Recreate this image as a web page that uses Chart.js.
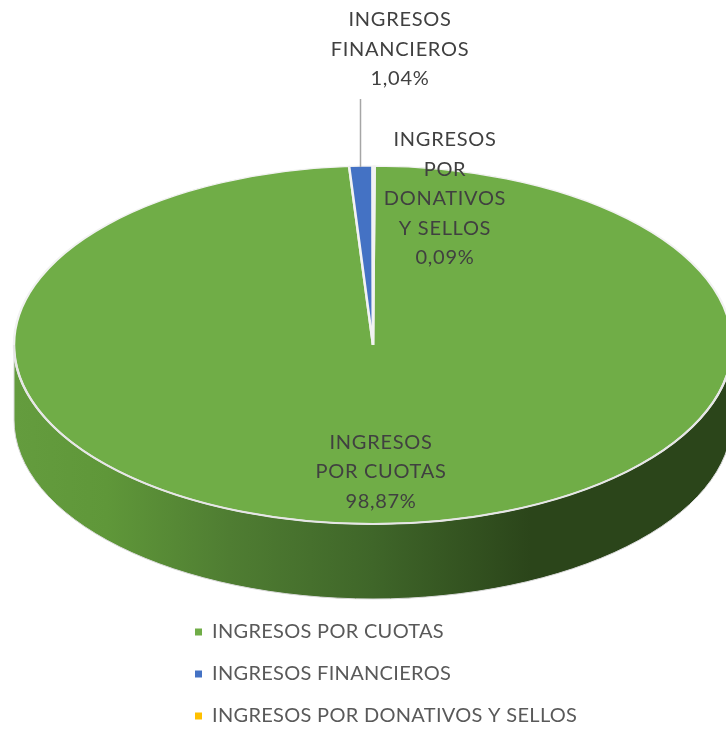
<!DOCTYPE html>
<html><head><meta charset="utf-8">
<style>html,body{margin:0;padding:0;background:#fff}#w{width:726px;height:731px}</style>
<script src="https://cdn.jsdelivr.net/npm/chart.js@4/dist/chart.umd.min.js"></script>
</head><body><div id="w"><canvas id="c"></canvas></div>
<script>
const categories = ['INGRESOS POR CUOTAS','INGRESOS FINANCIEROS','INGRESOS POR DONATIVOS Y SELLOS'];
const values = [98.87, 1.04, 0.09];
const colors = ['#70AD47','#4472C4','#FFC000'];
const sliceLabels = [
  ['INGRESOS','POR CUOTAS','98,87%'],
  ['INGRESOS','FINANCIEROS','1,04%'],
  ['INGRESOS','POR','DONATIVOS','Y SELLOS','0,09%']
];
const FONT = 'Lato, Carlito, sans-serif';
const CY = 345, KY = 179/359, DEPTH = 75;

function geom(chart){ const a = chart.getDatasetMeta(0).data[0]; return {cx:a.x, cy:a.y, r:a.outerRadius}; }

const pie3d = {
  id:'pie3d',
  afterLayout(chart){
    const l = chart.legend;
    l.left = 173; l.right = 640; l.top = 600; l.bottom = 900;
  },
  beforeDraw(chart){ chart.ctx.letterSpacing = '0.3px'; },
  beforeDatasetsDraw(chart){
    const {cx,cy,r} = geom(chart), ry = r*KY, ctx = chart.ctx;
    ctx.save();
    const g = ctx.createLinearGradient(cx-r,0,cx+r,0);
    g.addColorStop(0,'#649C3E');
    g.addColorStop(0.13,'#5F9739');
    g.addColorStop(0.30,'#4F7D32');
    g.addColorStop(0.50,'#3F6629');
    g.addColorStop(0.72,'#2B451A');
    g.addColorStop(1,'#2B451A');
    ctx.beginPath();
    ctx.ellipse(cx,CY,r,ry,0,Math.PI,0,true);
    ctx.lineTo(cx+r,CY+DEPTH);
    ctx.ellipse(cx,CY+DEPTH,r,ry,0,0,Math.PI,false);
    ctx.closePath();
    ctx.fillStyle = g; ctx.fill();
    ctx.strokeStyle = '#D9D9D9'; ctx.lineWidth = 1; ctx.stroke();
    ctx.restore();
    ctx.save();
    ctx.translate(cx,CY); ctx.scale(1,KY); ctx.translate(-cx,-cy);
  },
  afterDatasetsDraw(chart){
    const ctx = chart.ctx;
    ctx.restore();
    const {cx,r} = geom(chart);
    ctx.save();
    ctx.strokeStyle = '#E6E6E6'; ctx.lineWidth = 2;
    ctx.beginPath();
    ctx.ellipse(cx,CY,r,r*KY,0,Math.PI,0,true);
    ctx.stroke();
    ctx.restore();
  },
  afterDraw(chart){
    const ctx = chart.ctx;
    ctx.save();
    ctx.strokeStyle = '#A6A6A6'; ctx.lineWidth = 1.5;
    ctx.beginPath(); ctx.moveTo(360.5,99); ctx.lineTo(360.5,167); ctx.stroke();
    ctx.fillStyle = '#404040';
    ctx.font = '20px '+FONT;
    ctx.textAlign = 'center'; ctx.textBaseline = 'middle';
    ctx.letterSpacing = '0.7px';
    const block = (lines,x,y,lh)=>lines.forEach((t,i)=>ctx.fillText(t,x,y+i*lh));
    block(sliceLabels[0],381,442.5,29.5);
    block(sliceLabels[1],400,20,29.5);
    block(sliceLabels[2],445,139.5,29.6);
    ctx.restore();
  }
};

new Chart(document.getElementById('c'),{
  type:'pie',
  data:{labels:categories,datasets:[{data:values,backgroundColor:colors,borderColor:'#F2F2F2',borderWidth:2.5,clip:false,borderJoinStyle:'miter'}]},
  options:{
    responsive:true,maintainAspectRatio:false,animation:false,
    radius:359,rotation:0.26,
    layout:{padding:{left:20,right:0,top:0,bottom:0}},
    plugins:{
      tooltip:{enabled:false},
      legend:{
        position:'chartArea',align:'start',
        labels:{boxWidth:7,boxHeight:7,padding:22,color:'#595959',font:{family:FONT,size:20},
          generateLabels(chart){
            return Chart.controllers.pie.overrides.plugins.legend.labels.generateLabels(chart)
              .map(it=>Object.assign(it,{lineWidth:0,strokeStyle:'rgba(0,0,0,0)'}));
          }}
      }
    }
  },
  plugins:[pie3d]
});
</script></body></html>
